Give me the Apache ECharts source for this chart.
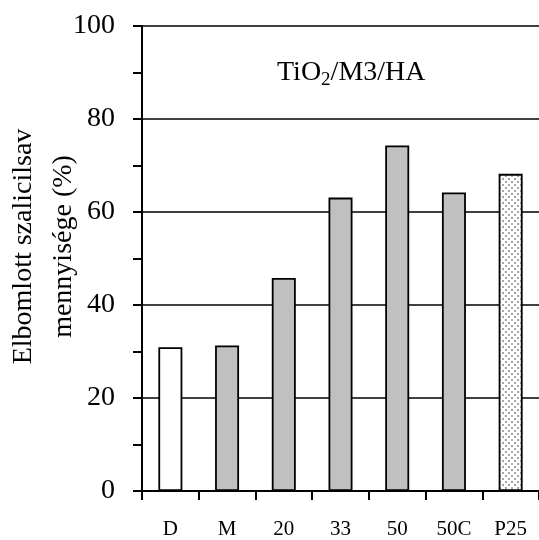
<!DOCTYPE html>
<html>
<head>
<meta charset="utf-8">
<script src="https://cdn.jsdelivr.net/npm/echarts@6/dist/echarts.min.js"></script>
<style>
html,body{margin:0;padding:0;background:#fff;}
#chart{width:539px;height:540px;}
</style>
</head>
<body>
<div id="chart"></div>
<script>
const categories = ['D', 'M', '20', '33', '50', '50C', 'P25'];
const values = [30.9, 31.3, 45.8, 63.1, 74.3, 64.2, 68.2];
const yTicks = [0, 20, 40, 60, 80, 100];
const yAxisName = 'Elbomlott szalicilsav\nmennyisége (%)';
const FONT = 'Liberation Serif';

// dotted pattern for P25
const pc = document.createElement('canvas');
pc.width = 6; pc.height = 6;
const pctx = pc.getContext('2d');
pctx.fillStyle = '#ffffff';
pctx.fillRect(0, 0, 6, 6);
pctx.fillStyle = '#a6a6a6';
pctx.fillRect(1, 1, 2, 2);
pctx.fillRect(4, 4, 2, 2);

function barStyle(cat) {
  if (cat === 'D') return { color: '#ffffff' };
  if (cat === 'P25') return { color: { image: pc, repeat: 'repeat' } };
  return { color: '#c0c0c0' };
}

const chart = echarts.init(document.getElementById('chart'), null, { renderer: 'canvas' });
chart.setOption({
  animation: false,
  backgroundColor: '#ffffff',
  title: {
    text: '{a|TiO}{s|2}{a|/M3/HA}',
    left: 272,
    top: 51,
    textStyle: {
      fontWeight: 'normal',
      fontFamily: FONT,
      rich: {
        a: { fontFamily: FONT, fontWeight: 'normal', fontSize: 28, color: '#000', lineHeight: 34 },
        s: { fontFamily: FONT, fontWeight: 'normal', fontSize: 19, color: '#000', lineHeight: 20, verticalAlign: 'bottom' }
      }
    }
  },
  grid: { left: 142, top: 26, width: 401, height: 468, containLabel: false },
  xAxis: {
    type: 'category',
    data: categories,
    boundaryGap: true,
    axisLine: { show: true, lineStyle: { color: '#000', width: 2 } },
    axisTick: { show: true, alignWithLabel: false, length: 9, inside: false, lineStyle: { color: '#000', width: 2 } },
    axisLabel: { color: '#000', fontFamily: FONT, fontSize: 21, margin: 28, interval: 0 },
    splitLine: { show: false }
  },
  yAxis: {
    type: 'value',
    min: yTicks[0],
    max: yTicks[yTicks.length - 1],
    interval: 20,
    axisLine: { show: true, lineStyle: { color: '#000', width: 2 } },
    axisTick: { show: true, length: 9, inside: false, lineStyle: { color: '#000', width: 2 } },
    minorTick: { show: true, splitNumber: 2, length: 9, lineStyle: { color: '#000', width: 2 } },
    axisLabel: { color: '#000', fontFamily: FONT, fontSize: 28, margin: 27 },
    splitLine: { show: true, lineStyle: { color: '#000', width: 1.5 } }
  },
  graphic: [{
    type: 'text',
    x: 44,
    y: 246.5,
    rotation: Math.PI / 2,
    style: {
      text: yAxisName,
      fontFamily: FONT,
      fontSize: 28,
      lineHeight: 40,
      fill: '#000',
      align: 'center',
      verticalAlign: 'middle'
    }
  }],
  series: [{
    type: 'bar',
    barWidth: 24,
    data: categories.map((c, i) => ({ value: values[i], itemStyle: barStyle(c) })),
    itemStyle: { borderColor: '#000', borderWidth: 1.8 }
  }]
});
</script>
</body>
</html>
